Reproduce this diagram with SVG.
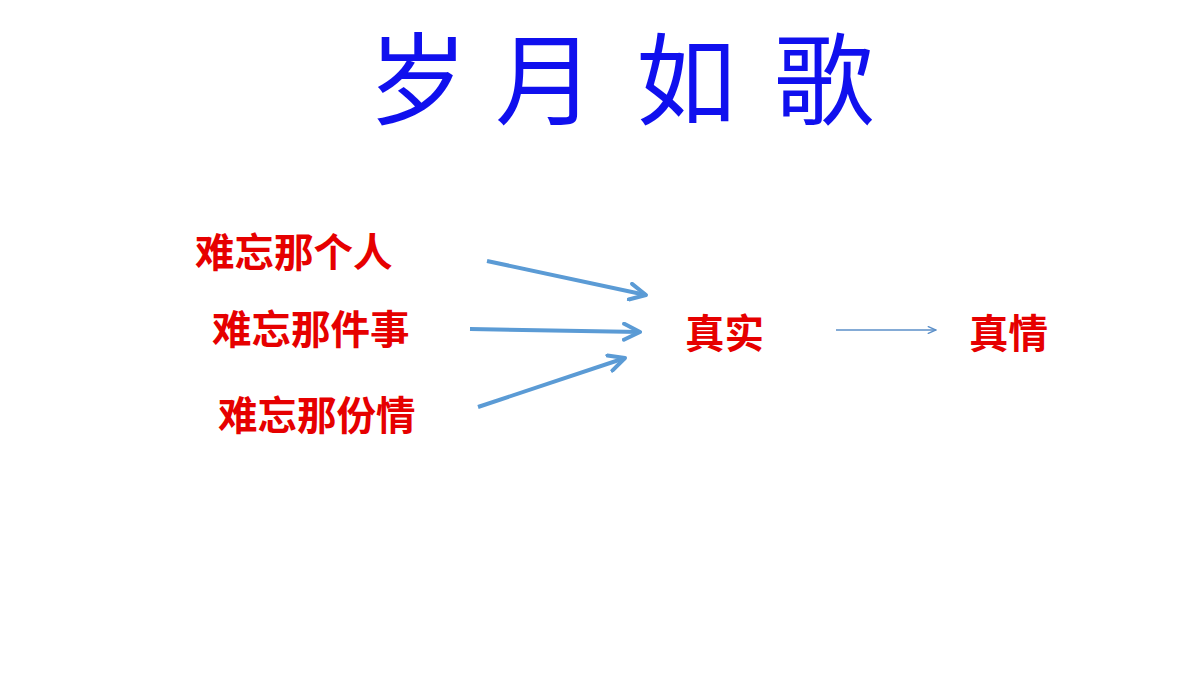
<svg xmlns="http://www.w3.org/2000/svg" width="1200" height="675" viewBox="0 0 1200 675">
<style>
.title{font-family:"Noto Sans CJK SC","Noto Sans CJK JP",sans-serif;font-size:100px;fill:#1010ee;text-anchor:middle}
.lbl{font-family:"Noto Sans CJK SC","Noto Sans CJK JP",sans-serif;font-size:39.5px;font-weight:bold;fill:#e60000}
.thick{stroke:#5b9bd5;stroke-width:4;fill:none;marker-end:url(#head)}
.thin{stroke:#5b8fc8;stroke-width:1.6;fill:none;marker-end:url(#headS)}
</style>
<defs>
<marker id="head" viewBox="0 0 10 10" refX="9" refY="5" markerWidth="5" markerHeight="5" orient="auto" markerUnits="strokeWidth">
<path d="M1,1 L9,5 L1,9" fill="none" stroke="#5b9bd5" stroke-width="2" stroke-linecap="round" stroke-linejoin="round"/>
</marker>
<marker id="headS" viewBox="0 0 10 10" refX="9" refY="5" markerWidth="6" markerHeight="6" orient="auto" markerUnits="strokeWidth">
<path d="M1,1.5 L9,5 L1,8.5" fill="none" stroke="#5b8fc8" stroke-width="1.5" stroke-linecap="round"/>
</marker>
</defs>
<rect width="1200" height="675" fill="#ffffff"/>
<g id="title">
<text class="title" y="117"><tspan x="418">岁</tspan><tspan x="545">月</tspan><tspan x="686">如</tspan><tspan x="824">歌</tspan></text>
</g>
<g id="n1"><text class="lbl" x="195" y="267">难忘那个人</text></g>
<g id="n2"><text class="lbl" x="212" y="344">难忘那件事</text></g>
<g id="n3"><text class="lbl" x="218" y="430">难忘那份情</text></g>
<g id="real"><text class="lbl" x="685" y="348">真实</text></g>
<g id="feel"><text class="lbl" x="969" y="348">真情</text></g>
<g id="connectors">
<line class="thick" x1="487" y1="261" x2="646" y2="295"/>
<line class="thick" x1="470" y1="329" x2="640" y2="332"/>
<line class="thick" x1="478" y1="407" x2="625" y2="358"/>
<line class="thin" x1="836" y1="330" x2="936" y2="330"/>
</g>
</svg>
